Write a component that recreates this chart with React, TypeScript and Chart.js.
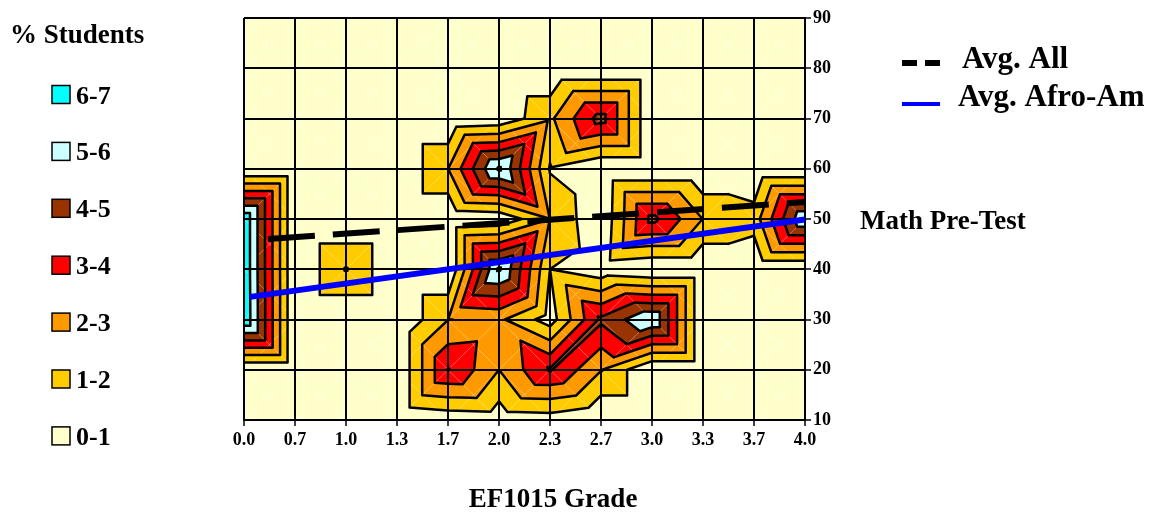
import React, { useEffect, useRef } from 'react';
import { Chart, registerables } from 'chart.js';

Chart.register(...registerables);

// ---- data ----
const gradeLabels = ['0.0', '0.7', '1.0', '1.3', '1.7', '2.0', '2.3', '2.7', '3.0', '3.3', '3.7', '4.0'];
const pctTicks = [10, 20, 30, 40, 50, 60, 70, 80, 90];

// % students at each (grade, pre-test) node, one row per pre-test value
const z10 = [0, 0, 0, 0, 0.3, 0.4, 0.5, 0, 0, 0, 0, 0];
const z20 = [0, 0, 0, 0, 4.05, 2.0, 4.1, 2.05, 0, 0, 0, 0];
const z30 = [6.85, 0, 0, 0, 1.98, 2.2, 0.5, 4.2, 5.9, 0, 0, 0];
const z40 = [6.8, 0, 2.06, 0, 0, 6.15, 1.0, 0.3, 0, 0, 0, 0];
const z50 = [6.8, 0, 0, 0, 0, 0.2, 1.98, 0.1, 4.3, 1.98, 1.5, 5.9];
const z60 = [0, 0, 0, 0, 1.98, 6.15, 0.9, 0, 0, 0, 0, 0];
const z70 = [0, 0, 0, 0, 0, 0.2, 1.8, 4.4, 0, 0, 0, 0];
const z80 = [0, 0, 0, 0, 0, 0, 0, 0, 0, 0, 0, 0];
const z90 = [0, 0, 0, 0, 0, 0, 0, 0, 0, 0, 0, 0];
const surfaceRows = [z10, z20, z30, z40, z50, z60, z70, z80, z90];

const bandNames = ['0-1', '1-2', '2-3', '3-4', '4-5', '5-6', '6-7'];
const bandColors = ['#FFFFCC', '#FFCC00', '#FF9900', '#FF0000', '#993300', '#CCFFFF', '#00FFFF'];

// trend lines (x in grade-category positions)
const avgAllX = [0.47, 11];
const avgAllY = [46.0, 53.4];
const avgAfroX = [0.12, 11];
const avgAfroY = [34.5, 49.9];

const SERIF = '"Liberation Serif", "Times New Roman", serif';

// ---- surface helpers ----
function cellCorners(i: number, j: number) {
  const a = surfaceRows[j][i];
  const b = surfaceRows[j][i + 1];
  const c = surfaceRows[j + 1][i + 1];
  const d = surfaceRows[j + 1][i];
  const m = Math.max((a + c) / 2, (b + d) / 2);
  return { a, b, c, d, m };
}

function cellTriangles(i: number, j: number) {
  const { a, b, c, d, m } = cellCorners(i, j);
  const A = [i, j, a], B = [i + 1, j, b], C = [i + 1, j + 1, c], D = [i, j + 1, d], M = [i + 0.5, j + 0.5, m];
  return [[A, B, M], [B, C, M], [C, D, M], [D, A, M]];
}

function bary(t: number[][], x: number, y: number) {
  const [x1, y1, z1] = t[0], [x2, y2, z2] = t[1], [x3, y3, z3] = t[2];
  const det = (y2 - y3) * (x1 - x3) + (x3 - x2) * (y1 - y3);
  const l1 = ((y2 - y3) * (x - x3) + (x3 - x2) * (y - y3)) / det;
  const l2 = ((y3 - y1) * (x - x3) + (x1 - x3) * (y - y3)) / det;
  const l3 = 1 - l1 - l2;
  return l1 * z1 + l2 * z2 + l3 * z3;
}

function surfaceAt(fi: number, fj: number) {
  const nC = gradeLabels.length, nR = surfaceRows.length;
  let i = Math.floor(fi), j = Math.floor(fj);
  i = Math.max(0, Math.min(nC - 2, i));
  j = Math.max(0, Math.min(nR - 2, j));
  const s = fi - i, t = fj - j;
  const tris = cellTriangles(i, j);
  let k;
  if (t <= s && t <= 1 - s) k = 0;
  else if (s >= t && s >= 1 - t) k = 1;
  else if (t >= s && t >= 1 - s) k = 2;
  else k = 3;
  return bary(tris[k], fi, fj);
}

const contourPlugin = {
  id: 'contour',
  beforeDraw(chart: any) {
    const ctx = chart.ctx as CanvasRenderingContext2D;
    const xs = chart.scales.x, ys = chart.scales.y;
    const { left, top, right, bottom } = chart.chartArea;
    const W = Math.round(right - left), H = Math.round(bottom - top);
    const off = document.createElement('canvas');
    off.width = W; off.height = H;
    const octx = off.getContext('2d')!;
    const img = octx.createImageData(W, H);
    const rgb = bandColors.map(h => [parseInt(h.slice(1, 3), 16), parseInt(h.slice(3, 5), 16), parseInt(h.slice(5, 7), 16)]);
    const y0 = pctTicks[0], dy = pctTicks[1] - pctTicks[0];
    for (let py = 0; py < H; py++) {
      const fj = (ys.getValueForPixel(top + py + 0.5) - y0) / dy;
      for (let px = 0; px < W; px++) {
        const fi = xs.getValueForPixel(left + px + 0.5);
        const z = surfaceAt(fi, fj);
        let band = Math.floor(z);
        if (band < 0) band = 0;
        if (band > bandColors.length - 1) band = bandColors.length - 1;
        const o = (py * W + px) * 4;
        img.data[o] = rgb[band][0];
        img.data[o + 1] = rgb[band][1];
        img.data[o + 2] = rgb[band][2];
        img.data[o + 3] = 255;
      }
    }
    octx.putImageData(img, 0, 0);
    ctx.save();
    ctx.drawImage(off, left, top);
    ctx.beginPath();
    ctx.rect(left, top, right - left, bottom - top);
    ctx.clip();

    const toPx = (p: number[]) => [xs.getPixelForValue(p[0]), ys.getPixelForValue(y0 + dy * p[1]), p[2]];
    const nC = gradeLabels.length, nR = surfaceRows.length;

    // faint triangulation diagonals
    ctx.strokeStyle = 'rgba(255,255,255,0.35)';
    ctx.lineWidth = 1;
    ctx.beginPath();
    for (let j = 0; j < nR - 1; j++) {
      for (let i = 0; i < nC - 1; i++) {
        const A = toPx([i, j, 0]), C = toPx([i + 1, j + 1, 0]);
        const B = toPx([i + 1, j, 0]), D = toPx([i, j + 1, 0]);
        ctx.moveTo(A[0], A[1]); ctx.lineTo(C[0], C[1]);
        ctx.moveTo(B[0], B[1]); ctx.lineTo(D[0], D[1]);
      }
    }
    ctx.stroke();

    // contour lines
    ctx.strokeStyle = '#000000';
    ctx.lineWidth = 2.5;
    ctx.lineCap = 'round';
    ctx.lineJoin = 'round';
    ctx.beginPath();
    for (let j = 0; j < nR - 1; j++) {
      for (let i = 0; i < nC - 1; i++) {
        const tris = cellTriangles(i, j);
        for (const tri of tris) {
          const v = tri.map(toPx);
          for (let L = 1; L < bandColors.length; L++) {
            const pts: number[][] = [];
            const edges = [[0, 1], [1, 2], [2, 0]];
            for (const e of edges) {
              const p = v[e[0]], q = v[e[1]];
              const ap = p[2] >= L, aq = q[2] >= L;
              if (ap !== aq) {
                const t = (L - p[2]) / (q[2] - p[2]);
                pts.push([p[0] + t * (q[0] - p[0]), p[1] + t * (q[1] - p[1])]);
              }
            }
            if (pts.length === 2) {
              ctx.moveTo(pts[0][0], pts[0][1]);
              ctx.lineTo(pts[1][0], pts[1][1]);
            }
          }
        }
      }
    }
    ctx.stroke();
    ctx.restore();
  },
};

const textPlugin = {
  id: 'texts',
  afterDraw(chart: any) {
    const ctx = chart.ctx as CanvasRenderingContext2D;
    ctx.save();
    ctx.fillStyle = '#000';
    ctx.textBaseline = 'alphabetic';
    ctx.textAlign = 'left';
    ctx.font = `bold 27px ${SERIF}`;
    ctx.fillText('% Students', 10, 43);

    // band legend (top = highest band)
    ctx.font = `bold 26px ${SERIF}`;
    for (let k = 0; k < bandNames.length; k++) {
      const band = bandNames.length - 1 - k;
      const base = 103.5 + k * 56.9;
      ctx.fillStyle = bandColors[band];
      ctx.fillRect(52, base - 18, 18, 18);
      ctx.strokeStyle = '#000';
      ctx.lineWidth = 1.5;
      ctx.strokeRect(52, base - 18, 18, 18);
      ctx.fillStyle = '#000';
      ctx.fillText(bandNames[band], 76, base);
    }

    // line legend
    ctx.fillStyle = '#000';
    ctx.fillRect(902, 60, 15, 6);
    ctx.fillRect(925, 60, 15, 6);
    ctx.fillStyle = '#0000FF';
    ctx.fillRect(902, 102, 38, 4);
    ctx.fillStyle = '#000';
    ctx.font = `bold 31px ${SERIF}`;
    ctx.fillText('Avg. All', 962, 68);
    ctx.fillText('Avg. Afro-Am', 958, 106);

    ctx.font = `bold 27px ${SERIF}`;
    ctx.fillText('Math Pre-Test', 860, 229);
    ctx.textAlign = 'center';
    ctx.fillText('EF1015 Grade', 553, 507);
    ctx.restore();
  },
};

export default function App() {
  const canvasRef = useRef<HTMLCanvasElement | null>(null);

  useEffect(() => {
    const canvas = canvasRef.current;
    if (!canvas) return;
    const chart = new Chart(canvas, {
      type: 'line',
      data: {
        datasets: [
          {
            label: 'Avg. All',
            data: avgAllX.map((x, k) => ({ x, y: avgAllY[k] })),
            borderColor: '#000000',
            borderWidth: 6,
            borderDash: [47, 18],
            borderCapStyle: 'butt',
            pointRadius: 0,
            fill: false,
          },
          {
            label: 'Avg. Afro-Am',
            data: avgAfroX.map((x, k) => ({ x, y: avgAfroY[k] })),
            borderColor: '#0000FF',
            borderWidth: 6,
            borderCapStyle: 'butt',
            pointRadius: 0,
            fill: false,
          },
        ],
      },
      options: {
        responsive: false,
        animation: false,
        events: [],
        layout: { padding: { left: 244, right: 318, top: 18, bottom: 57 } },
        plugins: { legend: { display: false }, tooltip: { enabled: false } },
        scales: {
          x: {
            type: 'linear',
            min: 0,
            max: gradeLabels.length - 1,
            afterFit: (s: any) => { s.height = 35; },
            grid: { color: '#000000', lineWidth: 2, tickLength: 6, tickColor: '#000000', tickWidth: 1.5 },
            border: { color: '#000000', width: 2 },
            ticks: {
              stepSize: 1,
              autoSkip: false,
              maxRotation: 0,
              padding: 4,
              color: '#000000',
              font: { family: SERIF, size: 18, weight: 'bold' },
              callback: (v: any) => gradeLabels[Math.round(Number(v))] ?? '',
            },
          },
          y: {
            type: 'linear',
            position: 'right',
            min: pctTicks[0],
            max: pctTicks[pctTicks.length - 1],
            afterFit: (s: any) => { s.width = 45; },
            grid: { color: '#000000', lineWidth: 2, tickLength: 6, tickColor: '#000000', tickWidth: 1.5 },
            border: { color: '#000000', width: 2 },
            ticks: {
              stepSize: 10,
              padding: 2,
              color: '#000000',
              font: { family: SERIF, size: 18, weight: 'bold' },
            },
          },
        },
      },
      plugins: [contourPlugin, textPlugin],
    } as any);
    return () => chart.destroy();
  }, []);

  return (
    <div style={{ position: 'absolute', left: 0, top: 0, width: 1168, height: 512, background: '#ffffff' }}>
      <canvas ref={canvasRef} width={1168} height={512} style={{ display: 'block', width: 1168, height: 512 }} />
    </div>
  );
}
